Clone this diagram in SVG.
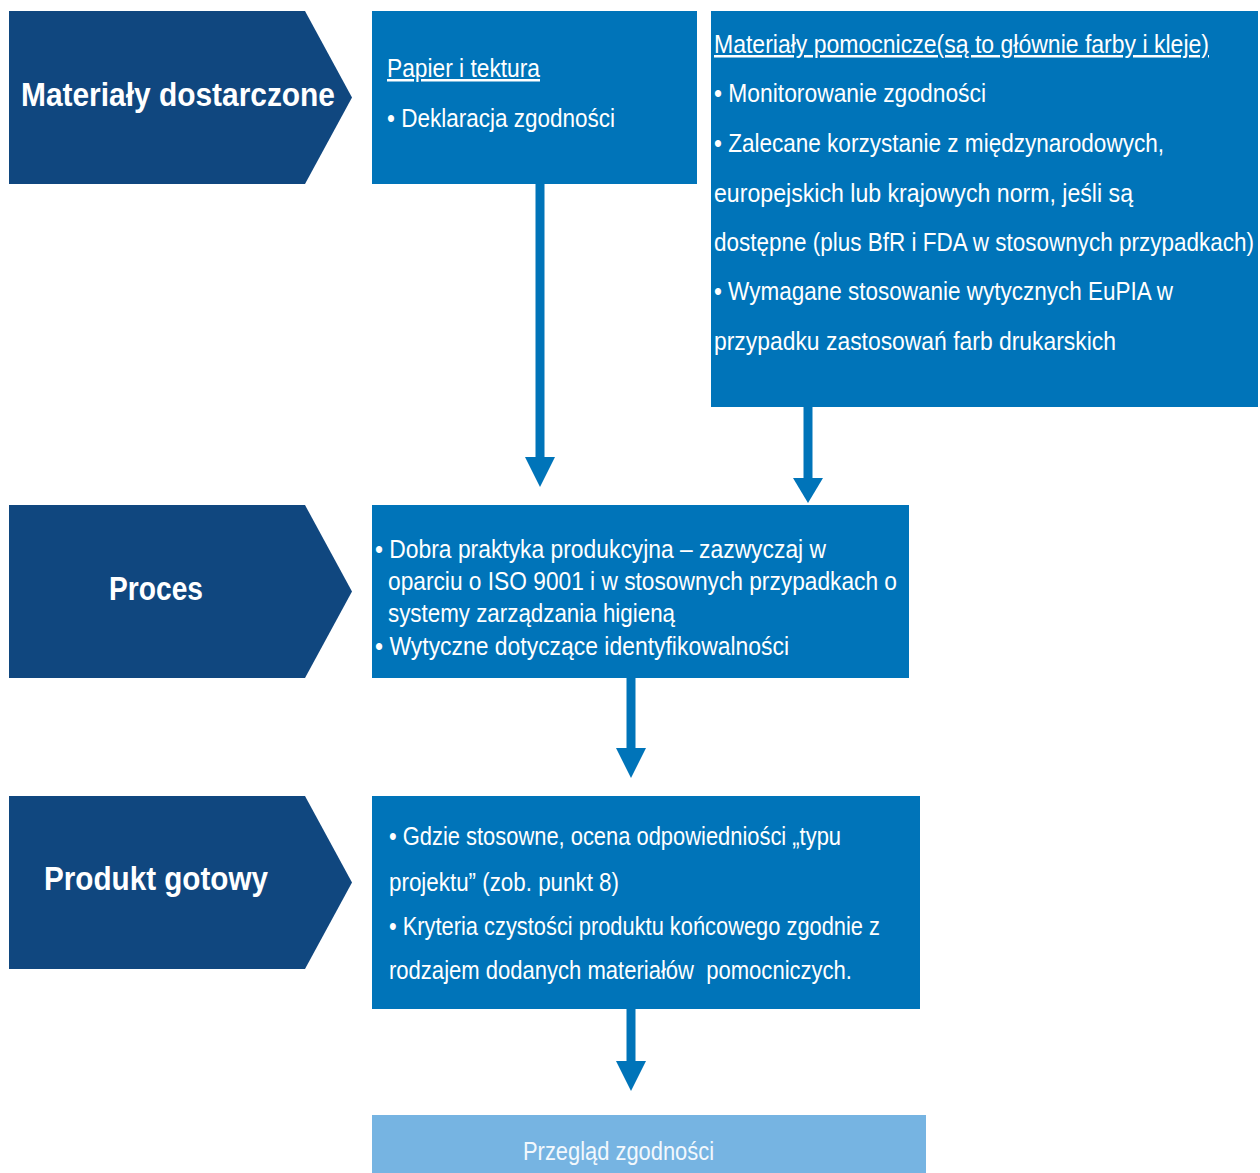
<svg xmlns="http://www.w3.org/2000/svg" width="1260" height="1173" viewBox="0 0 1260 1173">
<style>
.chev{fill:#10477f}
.box{fill:#0074b9}
.light{fill:#76b4e2}
.h{font-family:"Liberation Sans",Arial,sans-serif;font-weight:bold;font-size:33px;fill:#ffffff}
.t{font-family:"Liberation Sans",Arial,sans-serif;font-size:25px;fill:#ffffff}
.u{text-decoration:underline}
.e{font-family:"Liberation Sans",Arial,sans-serif;font-size:25px;fill:#f2f8fd}
.conn line{stroke:#0074b9;stroke-width:9}
.conn polygon{fill:#0074b9}
</style>
<rect width="1260" height="1173" fill="#ffffff"/>
<g id="chevron-materialy">
<polygon class="chev" points="9,11 305,11 352,97.5 305,184 9,184"/>
<text class="h" x="21" y="106" textLength="314" lengthAdjust="spacingAndGlyphs">Materiały dostarczone</text>
</g>
<g id="chevron-proces">
<polygon class="chev" points="9,505 305,505 352,591.5 305,678 9,678"/>
<text class="h" x="109" y="600" textLength="94" lengthAdjust="spacingAndGlyphs">Proces</text>
</g>
<g id="chevron-produkt">
<polygon class="chev" points="9,796 305,796 352,882.5 305,969 9,969"/>
<text class="h" x="44" y="890" textLength="224" lengthAdjust="spacingAndGlyphs">Produkt gotowy</text>
</g>
<g id="box-papier">
<rect class="box" x="372" y="11" width="325" height="173"/>
<text class="t u" x="387" y="77" textLength="153" lengthAdjust="spacingAndGlyphs">Papier i tektura</text>
<text class="t" x="387" y="127" textLength="228" lengthAdjust="spacingAndGlyphs">• Deklaracja zgodności</text>
</g>
<g id="box-pomocnicze">
<rect class="box" x="711" y="11" width="547" height="396"/>
<text class="t u" x="714" y="53" textLength="495" lengthAdjust="spacingAndGlyphs">Materiały pomocnicze(są to głównie farby i kleje)</text>
<text class="t" x="714" y="102" textLength="272" lengthAdjust="spacingAndGlyphs">• Monitorowanie zgodności</text>
<text class="t" x="714" y="152" textLength="450" lengthAdjust="spacingAndGlyphs">• Zalecane korzystanie z międzynarodowych,</text>
<text class="t" x="714" y="202" textLength="419" lengthAdjust="spacingAndGlyphs">europejskich lub krajowych norm, jeśli są</text>
<text class="t" x="714" y="251" textLength="540" lengthAdjust="spacingAndGlyphs">dostępne (plus BfR i FDA w stosownych przypadkach)</text>
<text class="t" x="714" y="300" textLength="459" lengthAdjust="spacingAndGlyphs">• Wymagane stosowanie wytycznych EuPIA w</text>
<text class="t" x="714" y="350" textLength="402" lengthAdjust="spacingAndGlyphs">przypadku zastosowań farb drukarskich</text>
</g>
<g id="box-proces">
<rect class="box" x="372" y="505" width="537" height="173"/>
<text class="t" x="375" y="558" textLength="451" lengthAdjust="spacingAndGlyphs">• Dobra praktyka produkcyjna – zazwyczaj w</text>
<text class="t" x="388" y="590" textLength="509" lengthAdjust="spacingAndGlyphs">oparciu o ISO 9001 i w stosownych przypadkach o</text>
<text class="t" x="388" y="622" textLength="287" lengthAdjust="spacingAndGlyphs">systemy zarządzania higieną</text>
<text class="t" x="375" y="655" textLength="414" lengthAdjust="spacingAndGlyphs">• Wytyczne dotyczące identyfikowalności</text>
</g>
<g id="box-produkt">
<rect class="box" x="372" y="796" width="548" height="213"/>
<text class="t" x="389" y="845" textLength="452" lengthAdjust="spacingAndGlyphs">• Gdzie stosowne, ocena odpowiedniości „typu</text>
<text class="t" x="389" y="891" textLength="230" lengthAdjust="spacingAndGlyphs">projektu” (zob. punkt 8)</text>
<text class="t" x="389" y="935" textLength="491" lengthAdjust="spacingAndGlyphs">• Kryteria czystości produktu końcowego zgodnie z</text>
<text class="t" x="389" y="979" textLength="463" lengthAdjust="spacingAndGlyphs" xml:space="preserve">rodzajem dodanych materiałów  pomocniczych.</text>
</g>
<g id="box-przeglad">
<rect class="light" x="372" y="1115" width="554" height="58"/>
<text class="e" x="523" y="1160" textLength="191" lengthAdjust="spacingAndGlyphs">Przegląd zgodności</text>
</g>
<g id="connectors" class="conn">
<line x1="540" y1="184" x2="540" y2="460"/>
<polygon points="525,457 555,457 540,487"/>
<line x1="808" y1="407" x2="808" y2="481"/>
<polygon points="793,478 823,478 808,503"/>
<line x1="631" y1="678" x2="631" y2="751"/>
<polygon points="616,748 646,748 631,778"/>
<line x1="631" y1="1009" x2="631" y2="1064"/>
<polygon points="616,1061 646,1061 631,1091"/>
</g>
</svg>
